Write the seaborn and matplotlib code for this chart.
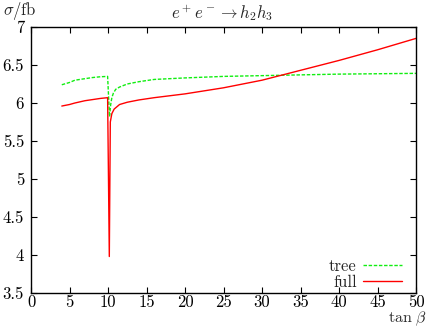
import numpy as np
import pandas as pd
import seaborn as sns
import matplotlib
matplotlib.use("Agg")
import matplotlib.pyplot as plt

# values
tan_beta_tree = [4, 5, 5.7, 7, 8, 9, 9.95, 10.2, 10.35, 10.5, 10.7, 11.0, 11.5,
                 12.5, 14, 16, 20, 25, 30, 35, 40, 45, 50]
sigma_tree = [6.24, 6.27, 6.30, 6.32, 6.335, 6.345, 6.35, 5.82, 5.98, 6.07, 6.13,
              6.18, 6.21, 6.25, 6.28, 6.31, 6.33, 6.35, 6.36, 6.37, 6.38, 6.385, 6.39]

tan_beta_full = [4, 5, 5.7, 7, 8, 9, 9.95, 10.17, 10.3, 10.5, 10.8, 11.5, 12.5,
                 14, 16, 20, 25, 30, 35, 40, 45, 50]
sigma_full = [5.96, 5.98, 6.0, 6.03, 6.045, 6.06, 6.07, 3.98, 5.75, 5.86, 5.92,
              5.98, 6.01, 6.04, 6.07, 6.12, 6.20, 6.30, 6.43, 6.56, 6.70, 6.85]

xticks = np.arange(0, 51, 5)
yticks = [3.5, 4, 4.5, 5, 5.5, 6, 6.5, 7]

sns.set_style("ticks")
plt.rcParams["font.family"] = ["cmr10", "DejaVu Serif"]
plt.rcParams["mathtext.fontset"] = "cm"
plt.rcParams["axes.formatter.use_mathtext"] = True

df_tree = pd.DataFrame({"x": tan_beta_tree, "y": sigma_tree})
df_full = pd.DataFrame({"x": tan_beta_full, "y": sigma_full})

fig = plt.figure(figsize=(4.32, 3.27), dpi=100)
ax = fig.add_axes([31 / 432, 1 - 293 / 327, 385 / 432, 266 / 327])

sns.lineplot(data=df_tree, x="x", y="y", ax=ax, color="#11ee11", lw=1.0,
             estimator=None, sort=False, label="tree",
             linestyle=(0, (2.5, 1.2)))
sns.lineplot(data=df_full, x="x", y="y", ax=ax, color="#ff0000", lw=1.0,
             estimator=None, sort=False, label="full")

ax.set_xlim(0, 50)
ax.set_ylim(3.5, 7)
ax.set_xticks(xticks)
ax.set_yticks(yticks)
ax.set_yticklabels(["3.5", "4", "4.5", "5", "5.5", "6", "6.5", "7"])
ax.set_xticklabels([str(v) for v in xticks])
ax.tick_params(direction="in", top=True, right=True, length=4, width=0.8,
               labelsize=12, colors="black")
ax.tick_params(axis="x", pad=1.5)
ax.tick_params(axis="y", pad=5)
for s in ax.spines.values():
    s.set_linewidth(1.0)
    s.set_color("black")
ax.set_xlabel("")
ax.set_ylabel("")

leg = ax.legend(loc="lower right", frameon=False, markerfirst=False,
                fontsize=12, handlelength=2.3, handletextpad=0.4,
                labelspacing=0.0, borderaxespad=0.0,
                bbox_to_anchor=(0.98, -0.012))
for t in leg.get_texts():
    t.set_ha("right")

fig.text(222 / 432, 1 - 13 / 327, r"$e^+e^- \to h_2h_3$", ha="center",
         va="center", fontsize=12)
fig.text(3 / 432, 1 - 11 / 327, r"$\sigma/\mathrm{fb}$", ha="left",
         va="center", fontsize=12)
fig.text(427 / 432, 1 - 322 / 327, r"$\tan\,\beta$", ha="right",
         va="baseline", fontsize=11.5)

fig.savefig("out.png", dpi=100)
